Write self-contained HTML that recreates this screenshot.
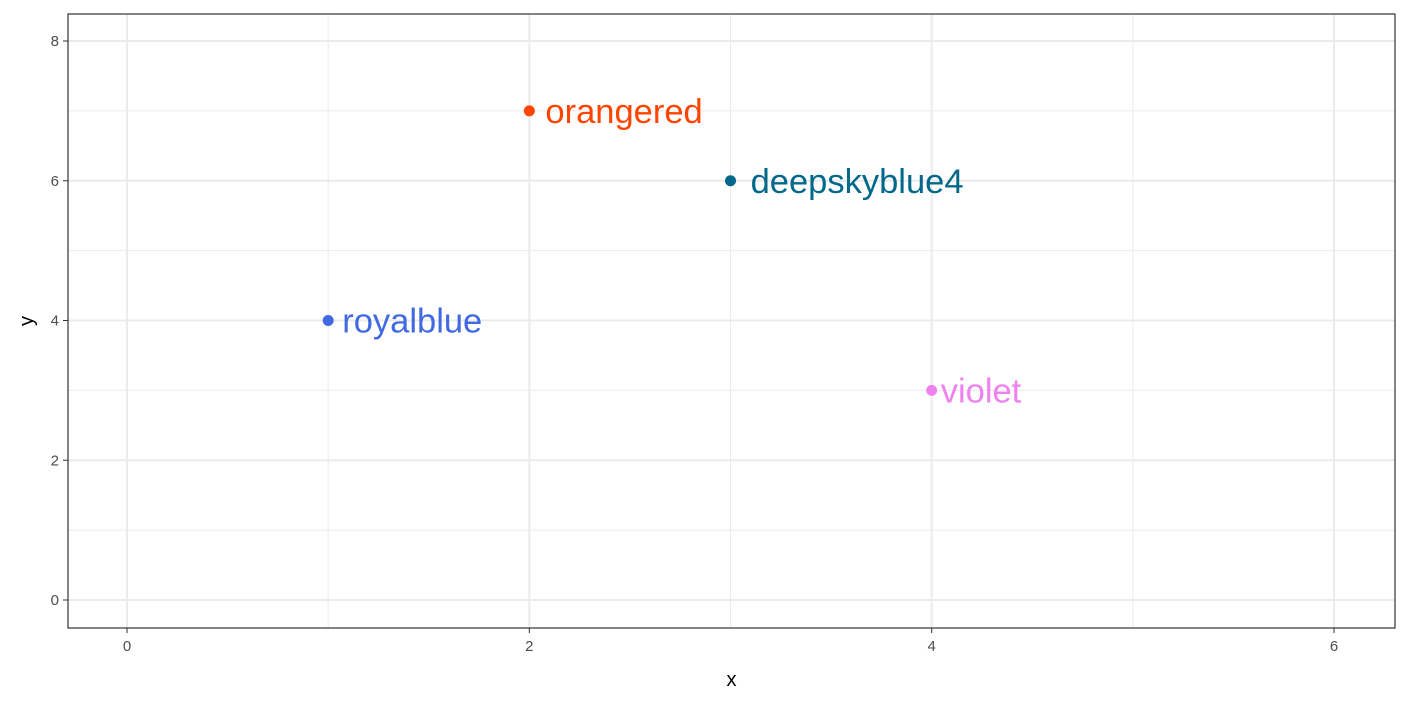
<!DOCTYPE html>
<html><head><meta charset="utf-8"><style>
html,body{margin:0;padding:0;background:#fff;}
svg{display:block;font-family:"Liberation Sans",sans-serif;}
</style></head><body>
<svg id="chart" width="1408" height="704"></svg>
<script>
const xVals=[1,2,3,4];
const yVals=[4,7,6,3];
const labels=["royalblue","orangered","deepskyblue4","violet"];
const colors=["#4169e1","#ff4500","#00688b","#ee82ee"];
const labelNudge=[0.07,0.08,0.1,0.045];
const xTicks=[0,2,4,6];
const yTicks=[0,2,4,6,8];
const xMinor=[1,3,5];
const yMinor=[1,3,5,7];

const L=68,T=14,R=1395,B=628;
const sx=v=>127+v*(1334-127)/6;
const sy=v=>600-v*(600-41)/8;
const svg=document.getElementById('chart');
const NS='http://www.w3.org/2000/svg';
function mk(tag,attrs,parent){const e=document.createElementNS(NS,tag);for(const k in attrs)e.setAttribute(k,attrs[k]);(parent||svg).appendChild(e);return e;}

xMinor.forEach(v=>{const l=mk('line',{x1:sx(v),x2:sx(v),y1:T,y2:B,stroke:'#ebebeb','stroke-width':1});

});
yMinor.forEach(v=>{const l=mk('line',{x1:L,x2:R,y1:sy(v),y2:sy(v),stroke:'#ebebeb','stroke-width':1});

});
xTicks.forEach(v=>{const l=mk('line',{x1:sx(v),x2:sx(v),y1:T,y2:B,stroke:'#ebebeb','stroke-width':2});


const t=mk('line',{x1:sx(v),x2:sx(v),y1:B,y2:B+5,stroke:'#333','stroke-width':1});


const tx=mk('text',{x:sx(v),y:B+23,'text-anchor':'middle','font-size':15,fill:'#4d4d4d'});tx.textContent=v;

});
yTicks.forEach(v=>{const l=mk('line',{x1:L,x2:R,y1:sy(v),y2:sy(v),stroke:'#ebebeb','stroke-width':2});


const t=mk('line',{x1:L-5,x2:L,y1:sy(v),y2:sy(v),stroke:'#333','stroke-width':1});


const tx=mk('text',{x:L-9,y:sy(v)+5,'text-anchor':'end','font-size':15,fill:'#4d4d4d'});tx.textContent=v;

});

xVals.forEach((x,i)=>{
const c=mk('circle',{cx:sx(x),cy:sy(yVals[i]),r:5.5,fill:colors[i]});


const t=mk('text',{x:sx(x+labelNudge[i]),y:sy(yVals[i])+12,'font-size':34.5,fill:colors[i]});
t.textContent=labels[i];


});

const frame=mk('rect',{x:L,y:T,width:R-L,height:B-T,fill:'none',stroke:'#333','stroke-width':1.2});


const xt=mk('text',{x:(L+R)/2,y:686,'text-anchor':'middle','font-size':20,fill:'#000'});xt.textContent='x';


const yt=mk('text',{x:0,y:0,'text-anchor':'middle','font-size':20,fill:'#000',transform:'translate(33,'+((T+B)/2)+') rotate(-90)'});yt.textContent='y';


</script>
</body></html>
